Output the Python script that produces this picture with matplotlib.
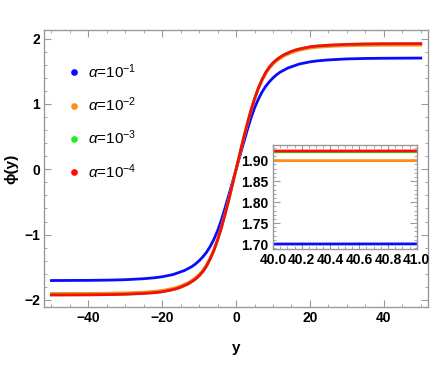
import matplotlib
matplotlib.use("Agg")
import matplotlib.pyplot as plt
from matplotlib.lines import Line2D
from matplotlib.ticker import MultipleLocator, FormatStrFormatter

plt.rcParams['font.family'] = ['Liberation Sans', 'DejaVu Sans']
plt.rcParams['font.weight'] = 'bold'
plt.rcParams['mathtext.fontset'] = 'custom'
plt.rcParams['mathtext.rm'] = 'Liberation Sans:regular'
plt.rcParams['mathtext.it'] = 'Liberation Sans:italic:regular'

# values
y = [-50, -40, -35, -30, -25, -22, -20, -18, -17, -16, -15, -14, -13, -12, -11, -10, -9, -8, -7, -6, -5, -4, -3, -2, -1,
     0,
     1, 2, 3, 4, 5, 6, 7, 8, 9, 10, 11, 12, 13, 14, 15, 16, 17, 18, 20, 22, 25, 30, 35, 40, 50]
phi_a1 = [-1.703, -1.70, -1.697, -1.69, -1.675, -1.66, -1.645, -1.622, -1.61, -1.59, -1.57, -1.55, -1.52,
          -1.49, -1.45, -1.40, -1.34, -1.27, -1.18, -1.07, -0.94, -0.78, -0.595, -0.40, -0.20,
          0.0,
          0.20, 0.40, 0.595, 0.78, 0.94, 1.07, 1.18, 1.27, 1.34, 1.40, 1.45, 1.49, 1.52,
          1.55, 1.57, 1.59, 1.61, 1.622, 1.645, 1.66, 1.675, 1.69, 1.697, 1.70, 1.703]
phi_a2 = [-1.90, -1.899, -1.897, -1.892, -1.88, -1.868, -1.855, -1.833, -1.82, -1.805, -1.785, -1.76, -1.735,
          -1.70, -1.66, -1.61, -1.545, -1.46, -1.355, -1.23, -1.07, -0.89, -0.685, -0.47, -0.235,
          0.0,
          0.235, 0.47, 0.685, 0.89, 1.07, 1.23, 1.355, 1.46, 1.545, 1.61, 1.66, 1.70, 1.735,
          1.76, 1.785, 1.805, 1.82, 1.833, 1.855, 1.868, 1.88, 1.892, 1.897, 1.899, 1.90]
phi_a3 = [-1.922, -1.920, -1.917, -1.911, -1.899, -1.887, -1.874, -1.852, -1.84, -1.825, -1.805, -1.78, -1.755,
          -1.72, -1.68, -1.63, -1.565, -1.48, -1.37, -1.24, -1.08, -0.90, -0.69, -0.47, -0.235,
          0.0,
          0.235, 0.47, 0.69, 0.90, 1.08, 1.24, 1.37, 1.48, 1.565, 1.63, 1.68, 1.72, 1.755,
          1.78, 1.805, 1.825, 1.84, 1.852, 1.874, 1.887, 1.899, 1.911, 1.917, 1.920, 1.922]
phi_a4 = [-1.924, -1.922, -1.919, -1.913, -1.90, -1.888, -1.875, -1.853, -1.84, -1.825, -1.805, -1.78, -1.755,
          -1.72, -1.68, -1.63, -1.565, -1.48, -1.37, -1.24, -1.08, -0.90, -0.69, -0.47, -0.235,
          0.0,
          0.235, 0.47, 0.69, 0.90, 1.08, 1.24, 1.37, 1.48, 1.565, 1.63, 1.68, 1.72, 1.755,
          1.78, 1.805, 1.825, 1.84, 1.853, 1.875, 1.888, 1.90, 1.913, 1.919, 1.922, 1.924]

series = [phi_a1, phi_a2, phi_a3, phi_a4]
labels = [r'$\alpha$=10$^{-1}$', r'$\alpha$=10$^{-2}$', r'$\alpha$=10$^{-3}$', r'$\alpha$=10$^{-4}$']
colors = ['#0a0aff', '#ff8c1a', '#22ee22', '#ff0a0a']

frame = '#999999'


def style(ax, xmaj, xmin, ymaj, ymin):
    for s in ax.spines.values():
        s.set_color(frame)
        s.set_linewidth(1.0)
    ax.xaxis.set_major_locator(MultipleLocator(xmaj))
    ax.xaxis.set_minor_locator(MultipleLocator(xmin))
    ax.yaxis.set_major_locator(MultipleLocator(ymaj))
    ax.yaxis.set_minor_locator(MultipleLocator(ymin))
    ax.tick_params(which='both', direction='in', top=True, right=True, color=frame)
    ax.tick_params(which='major', length=5, width=0.8, labelsize=10, pad=3)
    ax.tick_params(which='minor', length=2.5, width=0.6)


fig = plt.figure(figsize=(4.36, 3.82), dpi=100)
ax = fig.add_axes([0.101, 0.196, 0.881, 0.725])
for vals, c in zip(series, colors):
    ax.plot(y, vals, color=c, lw=2)
ax.set_xlim(-52, 52)
ax.set_ylim(-2.11, 2.13)
style(ax, 20, 5, 1, 0.2)
ax.set_xlabel('y', fontsize=11, fontweight='bold', labelpad=11)
ax.set_ylabel('ϕ(y)', fontsize=11, fontweight='bold', labelpad=4)

handles = [Line2D([], [], ls='none', marker='o', ms=3.8, color=c) for c in colors]
ax.legend(handles, labels, loc='upper left', bbox_to_anchor=(0.022, 0.935),
          frameon=False, prop={'size': 11, 'weight': 'normal'}, labelspacing=0.97,
          handletextpad=0.4, handlelength=1.0)

ins = fig.add_axes([0.626, 0.348, 0.330, 0.272])
for vals, c in zip(series, colors):
    ins.plot(y, vals, color=c, lw=2)
ins.set_xlim(40, 41)
ins.set_ylim(1.688, 1.936)
style(ins, 0.2, 0.05, 0.05, 0.01)
ins.xaxis.set_major_formatter(FormatStrFormatter('%.1f'))
ins.yaxis.set_major_formatter(FormatStrFormatter('%.2f'))

fig.savefig('out.png', dpi=100)
